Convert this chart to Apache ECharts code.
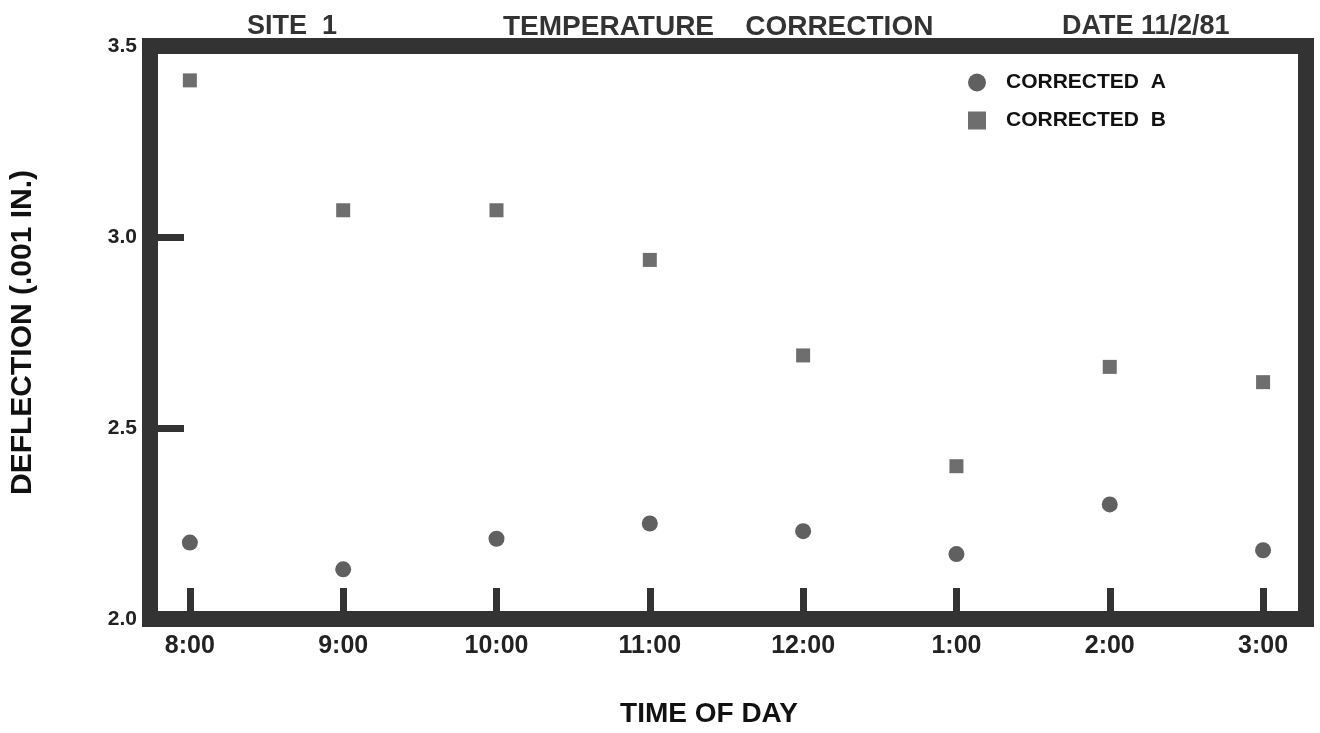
<!DOCTYPE html>
<html>
<head>
<meta charset="utf-8">
<script src="https://cdn.jsdelivr.net/npm/echarts@6/dist/echarts.min.js"></script>
<style>
html,body{margin:0;padding:0;background:#fff;}
#chart{width:1320px;height:733px;}
</style>
</head>
<body>
<div id="chart"></div>
<script>
// ---- data ----
var categories = ['8:00', '9:00', '10:00', '11:00', '12:00', '1:00', '2:00', '3:00'];
var correctedA = [2.20, 2.13, 2.21, 2.25, 2.23, 2.17, 2.30, 2.18];
var correctedB = [3.41, 3.07, 3.07, 2.94, 2.69, 2.40, 2.66, 2.62];
var yTicks = [2.0, 2.5, 3.0, 3.5];
var seriesNames = ['CORRECTED A', 'CORRECTED B'];

function pairs(vals) {
  return vals.map(function (v, i) { return [i, v]; });
}
var catIdx = categories.map(function (c, i) { return i; });

var FONT = '"Liberation Sans", Arial, Helvetica, sans-serif';
var INK = '#333333';

var chart = echarts.init(document.getElementById('chart'), null, {renderer: 'canvas'});
chart.setOption({
  backgroundColor: '#ffffff',
  animation: false,
  title: [
    {text: 'SITE  1', left: 247, top: 13, padding: 0,
     textStyle: {fontFamily: FONT, fontSize: 27, fontWeight: 'bold', color: INK}},
    {text: 'TEMPERATURE    CORRECTION', left: 503, top: 13, padding: 0,
     textStyle: {fontFamily: FONT, fontSize: 28, fontWeight: 'bold', color: INK}},
    {text: 'DATE 11/2/81', left: 1062, top: 13, padding: 0,
     textStyle: {fontFamily: FONT, fontSize: 27, fontWeight: 'bold', color: INK}}
  ],
  legend: {
    orient: 'vertical',
    left: 968,
    top: 72,
    itemGap: 17,
    itemWidth: 18,
    itemHeight: 18,
    padding: 0,
    data: [
      {name: seriesNames[0], icon: 'circle'},
      {name: seriesNames[1], icon: 'rect'}
    ],
    formatter: function (n) { return n.replace(' ', '  '); },
    textStyle: {fontFamily: FONT, fontSize: 21, fontWeight: 'bold', color: '#111', padding: [0, 0, 0, 15]}
  },
  grid: {
    left: 148, right: 14, top: 46, bottom: 114,
    show: true, borderWidth: 16, borderColor: INK, backgroundColor: 'transparent',
    containLabel: false
  },
  xAxis: {
    type: 'value',
    min: -0.26,
    max: 7.28,
    name: 'TIME OF DAY',
    nameLocation: 'middle',
    nameGap: 81,
    nameTextStyle: {fontFamily: FONT, fontSize: 28, fontWeight: 'bold', color: '#111', padding: [0, 38, 0, 0]},
    axisLine: {show: false, onZero: false},
    splitLine: {show: false},
    axisTick: {show: true, inside: true, length: 31, customValues: catIdx,
      lineStyle: {color: INK, width: 7}},
    axisLabel: {
      customValues: catIdx,
      margin: 15,
      fontFamily: FONT, fontSize: 25, fontWeight: 'bold', color: '#222',
      formatter: function (v) { return categories[Math.round(v)]; }
    }
  },
  yAxis: {
    type: 'value',
    min: yTicks[0],
    max: yTicks[yTicks.length - 1],
    interval: 0.5,
    name: 'DEFLECTION (.001 IN.)',
    nameLocation: 'middle',
    nameGap: 112,
    nameTextStyle: {fontFamily: FONT, fontSize: 30, fontWeight: 'bold', color: '#111'},
    axisLine: {show: false, onZero: false},
    splitLine: {show: false},
    axisTick: {show: true, inside: true, length: 34, lineStyle: {color: INK, width: 7}},
    axisLabel: {
      margin: 13,
      padding: [7, 0, 0, 0],
      fontFamily: FONT, fontSize: 21, fontWeight: 'bold', color: '#222',
      formatter: function (v) { return v.toFixed(1); }
    }
  },
  series: [
    {
      name: seriesNames[0], type: 'scatter', symbol: 'circle', symbolSize: 16,
      itemStyle: {color: '#383838'},
      data: pairs(correctedA)
    },
    {
      name: seriesNames[1], type: 'scatter', symbol: 'rect', symbolSize: 14,
      itemStyle: {color: '#4a4a4a'},
      data: pairs(correctedB)
    }
  ]
});
</script>
</body>
</html>
